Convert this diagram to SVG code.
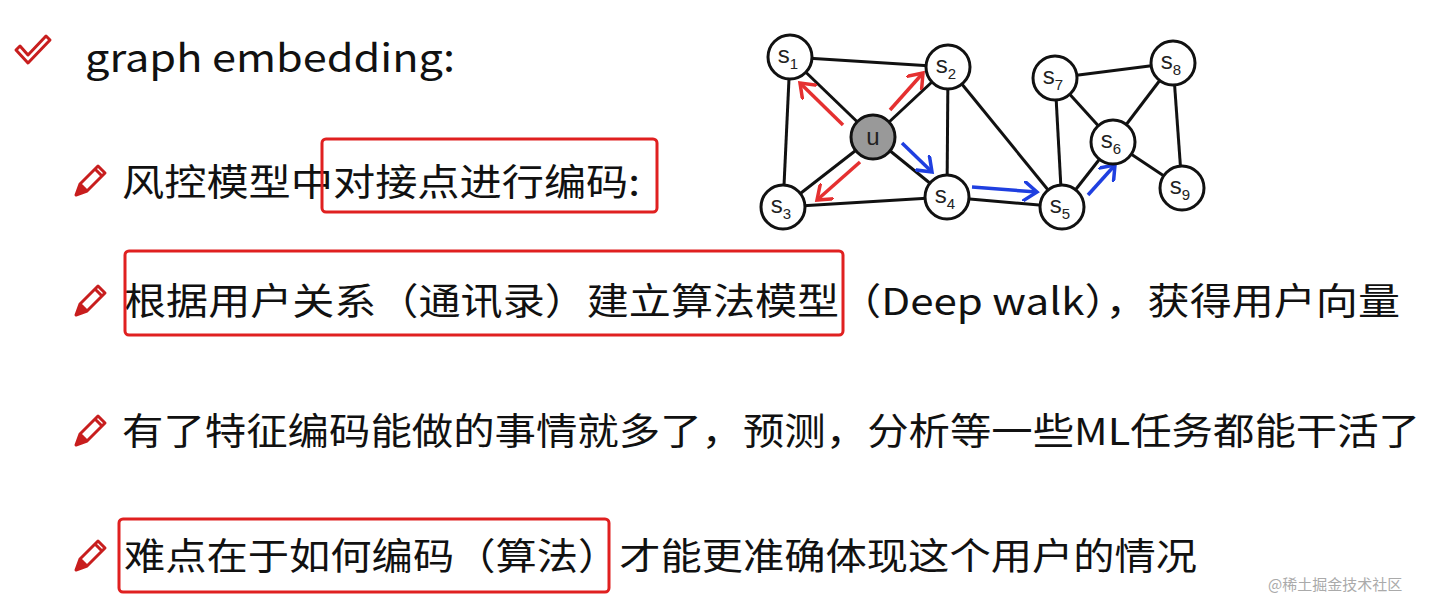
<svg xmlns="http://www.w3.org/2000/svg" width="1443" height="602" viewBox="0 0 1443 602">
<defs>
<style>
.t{font-family:"Noto Sans CJK SC","Noto Sans",sans-serif;fill:#111;}
.box{fill:none;stroke:#e02020;stroke-width:3;}
.e{stroke:#111;stroke-width:3;}
.n circle{fill:#fff;stroke:#111;stroke-width:3;}
.n text{font-family:"Liberation Sans",Arial,sans-serif;font-size:24px;fill:#222;text-anchor:middle;}
.n tspan{font-size:15px;}
.ar{stroke-width:3.5;fill:none;}
.pen{fill:none;stroke:#c81e1e;stroke-width:3;stroke-linejoin:round;}
</style>
<marker id="mr" markerWidth="6" markerHeight="6" refX="4" refY="3" orient="auto" markerUnits="strokeWidth"><path d="M0,0 L4,3 L0,6" fill="none" stroke="#e53030" stroke-width="1"/></marker>
<marker id="mb" markerWidth="6" markerHeight="6" refX="4" refY="3" orient="auto" markerUnits="strokeWidth"><path d="M0,0 L4,3 L0,6" fill="none" stroke="#1f3fe0" stroke-width="1"/></marker>
<g id="pencil"><path class="pen" d="M0,25 L4,14 L22,-4 L29,3 L11,21 Z M4,14 L11,21 M19,-1 L26,6"/><path d="M0,25 L4,14 L11,21 Z" fill="#c81e1e"/></g>
</defs>
<rect width="1443" height="602" fill="#fff"/>
<g id="check"><path d="M16,50 L28,63 L50,40 L46,36 L28,55 L20,46 Z" fill="none" stroke="#c81e1e" stroke-width="3" stroke-linejoin="round"/></g>
<g id="title"><text class="t" x="85" y="72" font-size="39" textLength="370" lengthAdjust="spacingAndGlyphs">graph embedding:</text></g>
<use href="#pencil" x="76" y="170"/>
<use href="#pencil" x="76" y="290"/>
<use href="#pencil" x="76" y="420"/>
<use href="#pencil" x="76" y="545"/>
<g id="line1"><text class="t" x="122" y="196" font-size="37" textLength="518" lengthAdjust="spacingAndGlyphs">风控模型中对接点进行编码:</text><rect class="box" x="322" y="139" width="335" height="73" rx="4"/></g>
<g id="line2"><text class="t" x="124" y="315" font-size="37" textLength="1276" lengthAdjust="spacingAndGlyphs">根据用户关系（通讯录）建立算法模型（Deep walk），获得用户向量</text><rect class="box" x="125" y="251" width="718" height="84" rx="4"/></g>
<g id="line3"><text class="t" x="122" y="445" font-size="37" textLength="1298" lengthAdjust="spacingAndGlyphs">有了特征编码能做的事情就多了，预测，分析等一些ML任务都能干活了</text></g>
<g id="line4"><text class="t" x="124" y="570" font-size="37" textLength="1073" lengthAdjust="spacingAndGlyphs">难点在于如何编码（算法）才能更准确体现这个用户的情况</text><rect class="box" x="119" y="519" width="490" height="73" rx="4"/></g>
<g id="connectors">
<line class="e" x1="790" y1="57" x2="948" y2="67"/>
<line class="e" x1="790" y1="57" x2="783" y2="207"/>
<line class="e" x1="790" y1="57" x2="873" y2="137"/>
<line class="e" x1="948" y1="67" x2="873" y2="137"/>
<line class="e" x1="948" y1="67" x2="947" y2="197"/>
<line class="e" x1="948" y1="67" x2="1062" y2="207"/>
<line class="e" x1="873" y1="137" x2="783" y2="207"/>
<line class="e" x1="873" y1="137" x2="947" y2="197"/>
<line class="e" x1="783" y1="207" x2="947" y2="197"/>
<line class="e" x1="947" y1="197" x2="1062" y2="207"/>
<line class="e" x1="1062" y1="207" x2="1055" y2="78"/>
<line class="e" x1="1062" y1="207" x2="1113" y2="142"/>
<line class="e" x1="1055" y1="78" x2="1113" y2="142"/>
<line class="e" x1="1055" y1="78" x2="1173" y2="63"/>
<line class="e" x1="1173" y1="63" x2="1113" y2="142"/>
<line class="e" x1="1173" y1="63" x2="1182" y2="188"/>
<line class="e" x1="1113" y1="142" x2="1182" y2="188"/>
<line class="ar" stroke="#e53030" x1="843" y1="125" x2="800" y2="83" marker-end="url(#mr)"/>
<line class="ar" stroke="#e53030" x1="890" y1="110" x2="923" y2="73" marker-end="url(#mr)"/>
<line class="ar" stroke="#e53030" x1="860" y1="162" x2="817" y2="200" marker-end="url(#mr)"/>
<line class="ar" stroke="#1f3fe0" x1="902" y1="143" x2="932" y2="172" marker-end="url(#mb)"/>
<line class="ar" stroke="#1f3fe0" x1="972" y1="187" x2="1037" y2="192" marker-end="url(#mb)"/>
<line class="ar" stroke="#1f3fe0" x1="1088" y1="195" x2="1115" y2="165" marker-end="url(#mb)"/>
</g>
<g id="u" class="n"><circle cx="873" cy="137" r="22" style="fill:#999"/><text x="873" y="145">u</text></g>
<g id="s1" class="n"><circle cx="790" cy="57" r="22"/><text x="788" y="63">s<tspan dy="6">1</tspan></text></g>
<g id="s2" class="n"><circle cx="948" cy="67" r="22"/><text x="946" y="73">s<tspan dy="6">2</tspan></text></g>
<g id="s3" class="n"><circle cx="783" cy="207" r="22"/><text x="781" y="213">s<tspan dy="6">3</tspan></text></g>
<g id="s4" class="n"><circle cx="947" cy="197" r="22"/><text x="945" y="203">s<tspan dy="6">4</tspan></text></g>
<g id="s5" class="n"><circle cx="1062" cy="207" r="22"/><text x="1060" y="213">s<tspan dy="6">5</tspan></text></g>
<g id="s6" class="n"><circle cx="1113" cy="142" r="22"/><text x="1111" y="148">s<tspan dy="6">6</tspan></text></g>
<g id="s7" class="n"><circle cx="1055" cy="78" r="22"/><text x="1053" y="84">s<tspan dy="6">7</tspan></text></g>
<g id="s8" class="n"><circle cx="1173" cy="63" r="22"/><text x="1171" y="69">s<tspan dy="6">8</tspan></text></g>
<g id="s9" class="n"><circle cx="1182" cy="188" r="22"/><text x="1180" y="194">s<tspan dy="6">9</tspan></text></g>
<text x="1268" y="590" font-family="Noto Sans CJK SC,sans-serif" font-size="15" fill="#aaa">@稀土掘金技术社区</text>
</svg>
